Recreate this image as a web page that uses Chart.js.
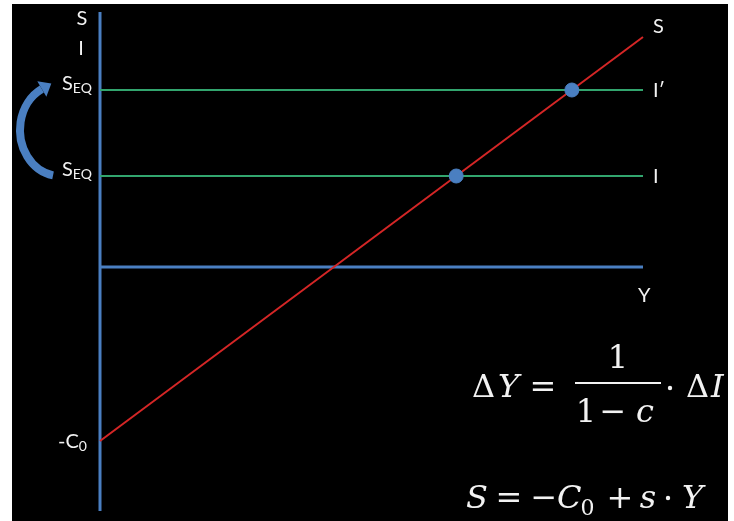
<!DOCTYPE html>
<html>
<head>
<meta charset="utf-8">
<script src="https://cdn.jsdelivr.net/npm/chart.js@4.4.0/dist/chart.umd.min.js"></script>
<style>
  html, body { margin: 0; padding: 0; background: #fff; }
  #wrap { position: absolute; left: 0; top: 0; width: 734px; height: 521px; }
</style>
</head>
<body>
<div id="wrap"><canvas id="chart"></canvas></div>
<script>
// income (Y) and saving (S) values
const incomeY = [0, 100];
const savingS = [-174, 230];
const investI = [91, 91];
const investI2 = [177, 177];
const eqIncome = [65.6, 86.9];
const eqSaving = [91, 177];
const zeroLine = [0, 0];
const axisS = [-244, 255];

const lineLabels = ['S', 'I\u2032', 'I'];
const axisLabels = ['S', 'I', 'Y'];

const blue = '#4a7fc1';
const green = '#32a56e';
const red = '#d42626';
const white = '#f2f2f2';

const pts = (xs, ys) => xs.map((x, i) => ({ x: x, y: ys[i] }));

const drawing = {
  id: 'drawing',
  beforeDraw(chart) {
    const ctx = chart.ctx;
    ctx.save();
    ctx.fillStyle = '#fff';
    ctx.fillRect(0, 0, chart.width, chart.height);
    ctx.fillStyle = '#000';
    ctx.fillRect(12, 4, 716, 517);
    ctx.restore();
  },
  afterDraw(chart) {
    const ctx = chart.ctx;
    const xs = chart.scales.x, ys = chart.scales.y;
    // returns the x where the text ends (for left aligned text)
    const txt = (s, x, y, font, align) => {
      ctx.font = font;
      ctx.textAlign = align || 'left';
      ctx.fillText(s, x, y);
      return x + ctx.measureText(s).width;
    };
    ctx.save();
    ctx.fillStyle = white;
    ctx.textBaseline = 'alphabetic';
    const lab = '20px Lato';
    const sub = '14px Lato';

    // left axis labels
    txt(axisLabels[0], 82, 25, lab, 'center');
    txt(axisLabels[1], 81, 55, lab, 'center');
    const y1 = ys.getPixelForValue(investI2[0]);
    const y0 = ys.getPixelForValue(investI[0]);
    [y1, y0].forEach(py => {
      const e = txt('S', 62, py, lab);
      txt('EQ', e, py + 3, sub);
    });
    const yc = ys.getPixelForValue(savingS[0]);
    const ce = txt('-C', 58, yc + 7, lab);
    txt('0', ce, yc + 10, sub);

    // right labels
    const xr = xs.getPixelForValue(incomeY[1]);
    txt(lineLabels[0], xr + 10, 33, lab);
    txt(lineLabels[1], xr + 10, y1 + 7, lab);
    txt(lineLabels[2], xr + 10, y0 + 7, lab);
    txt(axisLabels[2], xr - 5, ys.getPixelForValue(0) + 35, lab);

    // curved arrow
    ctx.strokeStyle = blue;
    ctx.lineWidth = 8;
    ctx.lineCap = 'butt';
    const a0 = 100 * Math.PI / 180, a1 = 243 * Math.PI / 180;
    ctx.beginPath();
    ctx.ellipse(60, 130, 40, 46, 0, a0, a1, false);
    ctx.stroke();
    const ex = 60 + 40 * Math.cos(a1), ey = 130 + 46 * Math.sin(a1);
    let tx = -40 * Math.sin(a1), ty = 46 * Math.cos(a1);
    const tl = Math.hypot(tx, ty); tx /= tl; ty /= tl;
    ctx.fillStyle = blue;
    ctx.beginPath();
    ctx.moveTo(ex + tx * 11, ey + ty * 11);
    ctx.lineTo(ex - ty * 9, ey + tx * 9);
    ctx.lineTo(ex + ty * 9, ey - tx * 9);
    ctx.closePath();
    ctx.fill();

    // equations
    ctx.fillStyle = white;
    const up = '32px "DejaVu Serif"';
    const it = 'italic 32px "DejaVu Serif"';
    txt('\u0394', 472, 397, up);
    txt('Y', 498, 397, it);
    txt('=', 543, 397, up, 'center');
    txt('1', 618, 368, up, 'center');
    ctx.fillRect(575, 382, 86, 2);
    txt('1', 586, 422, up, 'center');
    txt('\u2212', 613, 422, up, 'center');
    txt('c', 645, 422, it, 'center');
    ctx.beginPath(); ctx.arc(670, 388, 2.2, 0, Math.PI * 2); ctx.fill();
    txt('\u0394', 686, 397, up);
    txt('I', 711, 397, it);

    txt('S', 466, 508, it);
    txt('=', 509, 508, up, 'center');
    txt('\u2212', 544, 508, up, 'center');
    const c0 = txt('C', 557, 508, it);
    txt('0', c0 - 1, 515, '22px "DejaVu Serif"');
    txt('+', 620, 508, up, 'center');
    txt('s', 648, 508, it, 'center');
    ctx.beginPath(); ctx.arc(668, 498, 2.2, 0, Math.PI * 2); ctx.fill();
    txt('Y', 682, 508, it);
    ctx.restore();
  }
};

new Chart(document.getElementById('chart'), {
  type: 'scatter',
  data: {
    datasets: [
      { data: pts(eqIncome, eqSaving), backgroundColor: blue, borderColor: blue,
        pointRadius: 7, order: 0 },
      { data: pts(incomeY, savingS), showLine: true, borderColor: red, borderWidth: 2,
        pointRadius: 0, order: 1 },
      { data: pts(incomeY, investI2), showLine: true, borderColor: green, borderWidth: 2,
        pointRadius: 0, order: 2 },
      { data: pts(incomeY, investI), showLine: true, borderColor: green, borderWidth: 2,
        pointRadius: 0, order: 2 },
      { data: pts(incomeY, zeroLine), showLine: true, borderColor: blue, borderWidth: 3,
        pointRadius: 0, order: 3 },
      { data: pts([0, 0], axisS), showLine: true, borderColor: blue, borderWidth: 3,
        pointRadius: 0, order: 3 }
    ]
  },
  options: {
    responsive: true,
    maintainAspectRatio: false,
    animation: false,
    clip: false,
    layout: { padding: { left: 100, right: 91, top: 12, bottom: 10 } },
    scales: {
      x: { type: 'linear', min: 0, max: 100, display: false },
      y: { type: 'linear', min: -244, max: 255, display: false }
    },
    plugins: { legend: { display: false }, tooltip: { enabled: false } }
  },
  plugins: [drawing]
});
</script>
</body>
</html>
